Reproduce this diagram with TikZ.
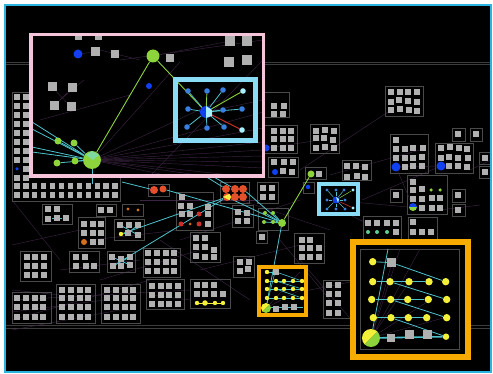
\documentclass[tikz,border=0pt]{standalone}
\usetikzlibrary{calc}
\definecolor{framecy}{HTML}{2AB4DF}
\definecolor{pinkb}{HTML}{F6C4DA}
\definecolor{lblue}{HTML}{8ADCF6}
\definecolor{orng}{HTML}{F7AA00}
\definecolor{lime}{HTML}{8CD33C}
\definecolor{limel}{HTML}{7DD9A0}
\definecolor{cyl}{HTML}{4EC2CC}
\definecolor{dblue}{HTML}{1040F0}
\definecolor{sblue}{HTML}{3A7FE0}
\definecolor{pblue}{HTML}{A8F0FF}
\definecolor{ored}{HTML}{E5502C}
\definecolor{rred}{HTML}{C83028}
\definecolor{oorg}{HTML}{D2701E}
\definecolor{yel}{HTML}{F4F03A}
\definecolor{sqg}{HTML}{B0B0B0}
\definecolor{boxg}{HTML}{4A4A4A}
\definecolor{purp}{HTML}{3A2240}
\definecolor{hline}{HTML}{3C3C3C}
\definecolor{tgreen}{HTML}{5FCF8F}
\pgfdeclarelayer{bg}\pgfdeclarelayer{fills}\pgfdeclarelayer{edges}\pgfdeclarelayer{top}
\pgfsetlayers{bg,fills,edges,main,top}
\tikzset{
  grp/.style={draw=boxg, line width=0.9pt},
  sq/.style={rectangle, fill=sqg, minimum size=5.2pt, inner sep=0pt, draw=none},
  bsq/.style={sq, minimum size=9pt},
  dot/.style={circle, inner sep=0pt, draw=none},
  faint/.style={draw=purp, line width=0.45pt},
  cyline/.style={draw=cyl, line width=0.8pt},
  limeline/.style={draw=lime, line width=0.9pt},
  ydot/.style={dot, fill=yel, minimum size=7.4pt},
  sydot/.style={dot, fill=yel, minimum size=4.4pt},
  sbdot/.style={dot, fill=sblue, minimum size=5.6pt},
  gdot/.style={dot, fill=lime, minimum size=7pt},
  odot/.style={dot, fill=ored, minimum size=8pt},
}
\newcommand{\gbox}[4]{\begin{pgfonlayer}{bg}\draw[grp] (#1,#2) rectangle (#3,#4);\end{pgfonlayer}}
\newcommand{\sqat}[1]{\foreach \sa/\sb in {#1}{\node[sq] at (\sa,\sb) {};}}
\newcommand{\faintlines}[1]{\foreach \xa/\ya/\xb/\yb in {#1}{\draw[faint] (\xa,\ya) -- (\xb,\yb);}}
\begin{document}
\begin{tikzpicture}[x=1pt,y=-1pt]
\useasboundingbox (0,0) rectangle (493,374);
\begin{pgfonlayer}{bg}
\fill[white] (0,0) rectangle (493,374);
\fill[black] (5,5) rectangle (491,372);
\foreach \yy in {62,64.6,325,328} \draw[hline, line width=0.8pt] (5,\yy) -- (491,\yy);
\faintlines{12/300/190/290, 12/312/105/300, 12/290/60/295, 150/295/190/300, 180/240/300/200, 300/170/388/112,
  330/200/408/207, 362/200/441/166, 255/150/320/140, 240/200/330/230, 90/240/180/230, 60/270/140/260, 200/270/300/245,
  280/240/330/300, 300/260/360/330, 260/300/360/280, 12/200/60/260, 140/200/260/200, 320/200/370/225, 470/170/491/160,
  440/210/480/205, 330/175/420/150, 12/245/80/230, 100/280/200/250, 12/320/150/280, 12/330/120/310, 160/240/250/300}
\end{pgfonlayer}
% ---------- outer gray groups ----------
\gbox{12}{92}{120}{201}
\foreach \yy in {97,106,115,124,133,142,151,160,178}{\node[sq] at (17,\yy) {};}
\foreach \yy in {97,106,115,124,133,142,151,160,169,178}{\node[sq] at (26,\yy) {};}
\node[dot, fill=dblue, minimum size=3.5pt] (lb) at (17,169) {};
\foreach \i in {0,...,11}{\node[sq] at ({17+8.9*\i},186) {}; \node[sq] at ({17+8.9*\i},195) {};}
\gbox{42}{204}{72}{224}
\sqat{48/209,57/209,48/219,57/218,66/218}
\gbox{96}{204}{116}{216}
\sqat{101/210,110/210}
\gbox{122}{204}{143}{216}
\node[dot, fill=oorg, minimum size=3.4pt] at (128,209) {};
\node[dot, fill=oorg, minimum size=3.4pt] at (138,210) {};
\gbox{78}{217}{105}{248}
\sqat{84/224,93/224,101/224,84/233,93/233,101/233,93/242,101/242}
\node[dot, fill=oorg, minimum size=6pt] at (84,242) {};
\gbox{114}{219}{144}{240}
\node[sq] (q6a) at (120,225) {}; \node[sq] (q6b) at (129,225) {}; \node[sq] (q6c) at (138,225) {};
\node[sq] (q6d) at (128,233) {}; \node[sq] (q6e) at (138,235) {};
\node[sydot] (y6) at (121,234) {};
\gbox{148}{184}{169}{196}
\node[odot] (o1) at (154,190) {}; \node[odot, minimum size=7pt] (o2) at (163,189) {};
\gbox{176}{192}{213}{230}
\sqat{182/197,181/206,190/206,208/207,182/214,190/214,208/214,208/224}
\node[dot, fill=rred, minimum size=5pt] at (199,214) {};
\node[dot, fill=rred, minimum size=5pt] at (181,224) {};
\node[dot, fill=oorg, minimum size=3pt] at (190,224) {};
\node[dot, fill=rred, minimum size=5pt] at (199,224) {};
\gbox{220}{182}{249}{203}
\node[odot] (oc1) at (226,189) {}; \node[odot] (oc2) at (235,189) {}; \node[odot] (oc3) at (243,189) {};
\node[odot] (oc4) at (227,197) {}; \node[odot] (oc5) at (235,197) {}; \node[odot] (oc6) at (243,197) {};
\begin{scope}\clip (227,197) circle (4); \fill[yel] (223,197) -- (231,193) -- (231,201) -- cycle;\end{scope}
\gbox{257}{182}{278}{203}
\sqat{263/188,272/188,263/197,272/197}
\gbox{232}{205}{253}{227}
\sqat{238/212,247/213,238/221,247/221}
\gbox{190}{232}{220}{262}
\sqat{196/238,205/238,196/247,205/247,214/250,196/256,205/257,214/257}
\gbox{256}{231}{267}{243}
\sqat{262/237}
\gbox{258}{208}{288}{230}
\node[dot, fill=lime, minimum size=4pt] (g1) at (265,213) {};
\node[dot, fill=lime, minimum size=4pt] (g2) at (273,213) {};
\node[dot, fill=lime, minimum size=4pt] (g3) at (264,222) {};
\node[dot, fill=lime, minimum size=4pt] (g4) at (273,222) {};
\node[gdot, minimum size=8pt] (G2) at (282,223) {};
\gbox{305}{167}{326}{179}
\node[gdot] (G3) at (311,174) {};
\sqat{319/174}
\gbox{303}{182}{314}{193}
\node[dot, fill=dblue, minimum size=4.5pt] at (308,187) {};
\gbox{20}{251}{51}{281}
\sqat{27/257,35/257,44/257,27/266,35/266,44/266,27/275,35/275,44/275}
\gbox{69}{251}{99}{272}
\sqat{76/257,85/257,76/266,86/266,94/266}
\gbox{107}{251}{135}{272}
\node[sq] (x1) at (112,257) {}; \node[sq] at (121,259) {}; \node[sq] (x2) at (130,257) {};
\node[sq] (x3) at (113,266) {}; \node[sq] at (121,266) {}; \node[sq] (x4) at (130,265) {};
\gbox{143}{248}{180}{277}
\foreach \xx in {148,157,166,174}{\foreach \yy in {253,262,271}{\node[sq] at (\xx,\yy) {};}}
\gbox{233}{256}{254}{277}
\sqat{240/262,249/262,240/271,248/269}
\gbox{12}{292}{51}{323}
\foreach \xx in {17,26,35,43}{\foreach \yy in {298,307,317}{\node[sq] at (\xx,\yy) {};}}
\gbox{56}{284}{95}{323}
\foreach \xx in {62,71,80,88}{\foreach \yy in {290,298,307,317}{\node[sq] at (\xx,\yy) {};}}
\gbox{101}{284}{140}{323}
\foreach \xx in {107,116,125,133}{\foreach \yy in {290,298,307,317}{\node[sq] at (\xx,\yy) {};}}
\gbox{146}{279}{184}{309}
\foreach \xx in {152,161,169,178}{\foreach \yy in {286,295,304}{\node[sq] at (\xx,\yy) {};}}
\gbox{190}{279}{230}{308}
\sqat{197/285,205/285,214/285,197/294,205/294,214/294,223/294}
\node[sydot] (ya) at (197,303) {}; \node[ydot, minimum size=5.5pt] (yb) at (205,303) {};
\node[sydot] (yc) at (215,303) {}; \node[sydot] (yd) at (223,303) {};
\gbox{294}{233}{324}{263}
\sqat{302/240,310/240,302/248,310/248,319/248,302/257,310/257,319/257}
\gbox{323}{280}{352}{318}
\foreach \yy in {285,294,303,313}{\node[sq] at (329,\yy) {}; \node[sq] at (338,\yy) {};}
\gbox{363}{216}{401}{240}
\sqat{368/223,377/223,387/223,396/223,396/232}
\foreach \xx in {368,377,387}{\node[dot, fill=tgreen, minimum size=4pt] at (\xx,232) {};}
\gbox{408}{217}{437}{243}
\sqat{413/222,413/232,422/232,431/232}
\gbox{407}{175}{447}{214}
\sqat{413/182,413/190,422/189,413/199,422/199,432/198,440/198,422/208,432/208,440/208}
\node[dot, fill=lime, minimum size=3.5pt] at (431,190) {};
\node[dot, fill=lime, minimum size=3.5pt] at (440,190) {};
\node[dot, minimum size=8pt] (hb) at (413,207) {};
\begin{scope}\clip (413,207) circle (4); \fill[dblue] (408,202) rectangle (418,207); \fill[lime] (408,207) rectangle (418,212);\end{scope}
\gbox{390}{189}{402}{202} \sqat{396/195}
\gbox{452}{189}{465}{202} \sqat{458/195}
\gbox{452}{204}{465}{216} \sqat{458/210}
\gbox{479}{152}{491}{164} \sqat{485/158}
\gbox{479}{166}{491}{178} \sqat{485/172}
\gbox{452}{128}{465}{141} \sqat{458/134}
\gbox{470}{128}{482}{141} \sqat{476/134}
\gbox{390}{134}{428}{173}
\sqat{396/140,396/149,405/149,413/148,423/148,396/158,405/158,413/158,422/157,405/167,413/166,422/166}
\node[dot, fill=dblue, minimum size=9pt] (bd1) at (396,167) {};
\gbox{435}{143}{473}{173}
\sqat{441/148,450/147,459/148,467/149,441/158,449/157,458/158,468/158,449/166,458/166,467/167}
\node[dot, fill=dblue, minimum size=9pt] (bd2) at (441,166) {};
\gbox{385}{86}{423}{116}
\sqat{391/92,400/92,408/92,417/92,391/102,399/100,408/101,417/102,391/110,400/109,409/110,417/111}
\gbox{258}{92}{289}{117}
\sqat{274/106,284/106,274/114,283/114}
\gbox{258}{125}{297}{153}
\sqat{274/131,283/131,291/131,274/139,283/139,291/139,274/148,283/148,291/148}
\node[dot, fill=dblue, minimum size=7pt] at (266,148) {};
\gbox{310}{124}{339}{153}
\sqat{316/131,325/130,334/131,316/138,324/138,333/140,316/148,325/147,334/148}
\gbox{268}{157}{298}{177}
\sqat{274/162,284/162,293/162,283/171,292/172}
\node[dot, fill=dblue, minimum size=6pt] at (275,172) {};
\gbox{342}{160}{371}{180}
\sqat{347/166,356/166,365/167,347/177,357/176,365/177}
% ---------- fills of highlighted groups ----------
\begin{pgfonlayer}{fills}
\fill[black] (31,34.5) rectangle (263.5,176);
\fill[black] (175.5,79.5) rectangle (255.5,140.5);
\fill[black] (318.7,183.7) rectangle (358,213.7);
\fill[black] (259,267) rectangle (306.3,315.3);
\fill[black] (352.7,242) rectangle (467.8,356.7);
\draw[grp] (360,249) rectangle (459,349);
\faintlines{92/160/263/128, 92/160/263/142, 92/160/263/156, 92/160/263/168, 92/160/240/176, 92/160/205/176,
  92/160/170/176, 92/160/263/112, 92/160/220/100, 92/160/180/62, 60/100/84/80, 120/60/263/40,
  153/56/230/41, 100/50/140/60, 206/112/263/100, 40/120/130/95, 150/176/263/60, 92/160/263/150, 92/160/263/162,
  371/338/392/262, 371/338/410/281, 371/338/430/300, 371/338/447/317, 371/338/400/249, 371/338/420/249,
  266/308/300/272, 266/308/302/289}
\end{pgfonlayer}
% ---------- pink group content ----------
\gbox{64}{34}{127}{65}
\node[dot, fill=dblue, minimum size=9pt] (A1) at (78,54) {};
\node[bsq] (A2) at (95,52) {}; \node[bsq, minimum size=8pt] (A3) at (115,54) {};
\node[sq, minimum size=7pt] at (78,37) {}; \node[sq, minimum size=7pt] at (98,37) {};
\gbox{141}{44}{184}{69}
\node[gdot, minimum size=13pt] (B) at (153,56) {};
\node[bsq, minimum size=8pt] at (170,58) {};
\gbox{137}{75}{162}{100}
\node[dot, fill=dblue, minimum size=6pt] (C) at (149,86) {};
\gbox{41}{75}{84}{118}
\node[bsq] (D1) at (52,87) {}; \node[bsq] (D2) at (72,88) {}; \node[bsq] (D3) at (54,106) {}; \node[bsq] (D4) at (71,107) {};
\gbox{44}{129}{106}{174}
\node[gdot] (e1) at (58,141) {}; \node[gdot] (e2) at (74,143) {}; \node[gdot] (e3) at (57,163) {}; \node[gdot] (e4) at (75,161) {};
\node[dot, fill=lime, minimum size=18pt] (E) at (92,160) {};
\fill[limel] (86,155) -- (92,151) -- (99,155) -- (93,160) -- cycle;
\gbox{217}{34}{263}{73}
\node[bsq, minimum size=10pt] at (230,41) {}; \node[bsq, minimum size=10pt] at (247,41) {};
\node[bsq, minimum size=10pt] at (229,62) {}; \node[bsq, minimum size=10pt] at (247,60) {};
% star 1
\node[dot, fill=dblue, minimum size=12pt] (S) at (206,112) {};
\fill[pblue] (206,106) -- (212,110) -- (212,116) -- (206,118) -- cycle;
\foreach \n/\xx/\yy in {a/188/91,b/207/91,c/223/90,e/188/109,f/223/110,g/242/109,h/187/127,i/207/128,j/224/127}
  {\node[sbdot] (s\n) at (\xx,\yy) {};}
\node[dot, fill=pblue, minimum size=5.6pt] (sd) at (243,91) {};
\node[dot, fill=pblue, minimum size=5.6pt] (sk) at (242,130) {};
% star 2
\node[dot, fill=dblue, minimum size=7pt] (T) at (336,200) {};
\fill[pblue] (336,197) -- (339,199) -- (338,203) -- cycle;
\foreach \n/\xx/\yy in {a/327/190,b/336/190,c/344/190,e/327/200,f/345/200,g/327/209,h/336/209,i/345/209}
  {\node[dot, fill=sblue, minimum size=3.4pt] (t\n) at (\xx,\yy) {};}
\node[dot, fill=pblue, minimum size=3.4pt] (td) at (353,190) {};
\node[dot, fill=pblue, minimum size=3.4pt] (tk) at (353,208) {};
% small orange group
\node[sq, minimum size=6pt] (u0) at (276,272) {};
\node[sydot] (ua) at (267,272) {};
\foreach \r/\yy in {1/281,2/289,3/298}{
  \foreach \c/\xx in {1/267,2/276,3/284,4/293,5/302}{\node[sydot] (u\r\c) at (\xx,\yy) {};}}
\node[dot, minimum size=10pt] (UB) at (266,308) {};
\begin{scope}\clip (266,308) circle (5); \fill[yel] (261,313) -- (261,303) -- (271,303) -- cycle; \fill[lime] (271,303) -- (271,313) -- (261,313) -- cycle;\end{scope}
\node[sq, minimum size=6pt] (v1) at (276,309) {}; \node[sq, minimum size=6pt] (v2) at (285,307) {}; \node[sq, minimum size=6pt] (v3) at (294,307) {};
\coordinate (vend) at (303,308);
% big orange group
\node[ydot] (w0) at (372.7,261.7) {};
\node[bsq] (wq) at (391.7,262.7) {};
\foreach \c/\xx in {1/372.7,2/390,3/409,4/429,5/445.7}{\node[ydot] (wa\c) at (\xx,281.7) {};}
\foreach \c/\xx in {1/371.7,2/390.7,3/407.7,4/428.3,5/446.7}{\node[ydot] (wb\c) at (\xx,299.5) {};}
\foreach \c/\xx in {1/373.3,2/391,3/408.3,4/426.7,5/446.7}{\node[ydot] (wc\c) at (\xx,317.7) {};}
\node[dot, minimum size=18pt] (WB) at (371,338) {};
\begin{scope}\clip (371,338) circle (9); \fill[yel] (362,347) -- (362,329) -- (380,329) -- cycle; \fill[lime] (380,329) -- (380,347) -- (362,347) -- cycle;\end{scope}
\node[bsq, minimum size=8pt] (wd2) at (391,337.7) {};
\node[bsq] (wd3) at (409.3,334.3) {};
\node[bsq] (wd4) at (427.7,334.3) {};
\node[ydot, minimum size=6.5pt] (wd5) at (446,336.7) {};
\coordinate (wtop) at (388,249);
\coordinate (c1) at (32,122); \coordinate (c2) at (32,129); \coordinate (c3) at (32,147); \coordinate (c4) at (32,152);
\coordinate (edown) at (92,184);
\coordinate (pk1) at (205,176); \coordinate (pk2) at (212,176); \coordinate (pk3) at (122,182);
\coordinate (utop) at (276,268);
% ---------- connectors ----------
\begin{pgfonlayer}{edges}
\draw[limeline] (E) -- (B);
\draw[limeline] (B) -- (S);
\foreach \n in {a,c,e,f,g,h,i,j} \draw[cyline] (S) -- (s\n);
\draw[limeline] (S) -- (sb); \draw[limeline] (S) -- (sd);
\draw[draw=rred, line width=0.9pt] (S) -- (sk);
\foreach \n in {a,b,c,e,f,g,h,i} \draw[cyl, line width=0.5pt] (T) -- (t\n);
\draw[lime, line width=0.5pt] (T) -- (td);
\draw[rred, line width=0.6pt] (T) -- (tk);
\foreach \n in {c1,c2,c3,c4,e1,e2,e3,e4,edown} \draw[cyline] (E) -- (\n);
\draw[faint] (D1) -- (D4); \draw[faint] (D2) -- (D3); \draw[faint] (A1) -- (A2);
\draw[limeline] (G2) -- (G3);
\foreach \n in {g1,g2,g3,g4} \draw[cyline] (G2) -- (\n);
\draw[cyline] (G2) -- (o2); \draw[cyline] (G2) -- (oc4); \draw[cyline] (G2) -- (oc3);
\draw[cyline] (G2) -- (UB);
\draw[cyline] (oc4) -- (y6); \draw[cyline] (oc4) -- (x3);
\draw[cyline] (oc1) -- (pk1); \draw[cyline] (oc2) -- (pk2);
\draw[cyline] (o1) -- (pk3);
\draw[cyline] (y6) -- (q6d); \draw[cyline] (q6a) -- (q6e); \draw[cyline] (q6c) -- (q6d);
\draw[cyline] (x1) -- (x4); \draw[cyline] (x2) -- (x3);
\draw[yel, line width=0.8pt] (ya) -- (yd);
\draw[cyline] (52,218) -- (62,218);
% small orange
\draw[cyline] (ua) -- (u0);
\foreach \r in {1,2,3} \draw[cyl, line width=0.6pt] (u\r1) -- (u\r5);
\draw[cyl, line width=0.6pt] (u0) -- (u15); \draw[cyl, line width=0.6pt] (u12) -- (u25); \draw[cyl, line width=0.6pt] (u22) -- (u35);
\draw[cyl, line width=1pt] (UB) -- (vend);
\draw[cyl, line width=0.6pt] (utop) -- (UB);
% big orange
\draw[cyline] (w0) -- (wq); \draw[cyline] (wq) -- (wa5);
\draw[cyline] (wa1) -- (wa4); \draw[cyline] (wa2) -- (wb5);
\draw[cyline] (wb1) -- (wb4); \draw[cyline] (wb2) -- (wc5);
\draw[cyline] (wc1) -- (wc4); \draw[cyline] (wc2) -- (wd5);
\draw[cyl, line width=1.6pt] (WB) -- (wd5);
\draw[cyline] (wtop) -- (WB);
\draw[faint] (bd1) -- (hb); \draw[faint] (bd2) -- (bd1);
\end{pgfonlayer}
% ---------- highlight frames ----------
\begin{pgfonlayer}{top}
\draw[pinkb, line width=3.5pt] (31,34.5) rectangle (263.5,176);
\draw[lblue, line width=4.5pt] (175.5,79.5) rectangle (255.5,140.5);
\draw[lblue, line width=4pt] (318.7,183.7) rectangle (358,213.7);
\draw[orng, line width=4pt] (259,267) rectangle (306.3,315.3);
\draw[orng, line width=6pt] (352.7,242) rectangle (467.8,356.7);
\draw[framecy, line width=2pt] (5,5) rectangle (491,372);
\end{pgfonlayer}
\end{tikzpicture}
\end{document}
